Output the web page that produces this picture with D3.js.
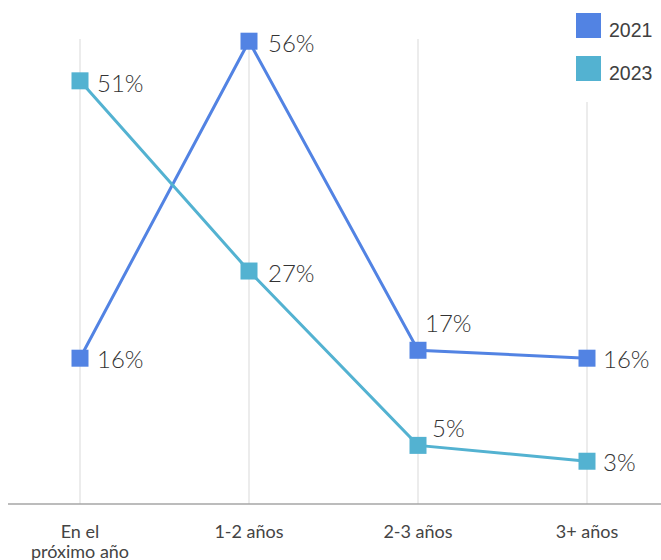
<!DOCTYPE html>
<html>
<head>
<meta charset="UTF-8">
<title>Plazo</title>
<style>
  body { margin: 0; background: #fff; }
  .grid { stroke: #e6e6e6; stroke-width: 1.5px; }
  .baseline { stroke: #a6a6a6; stroke-width: 1.5px; }
  .lbl { font: 300 24px Lato, sans-serif; fill: #333; }
  .cat { font: 400 18px Lato, sans-serif; fill: #444; }
  .leg { font: 400 19.5px "Liberation Sans", Arial, sans-serif; fill: #404040; }
</style>
</head>
<body>
<script src="https://cdn.jsdelivr.net/npm/d3@7"></script>
<svg id="chart" width="661" height="560"></svg>
<script>
  var categories = ["En el|próximo año", "1-2 años", "2-3 años", "3+ años"];
  var years = ["2021", "2023"];
  var colors = ["#5283e3", "#53b2d1"];
  var values2021 = [16, 56, 17, 16];
  var values2023 = [51, 27, 5, 3];
  // label nudges for the crowded "2-3 años" column
  var labelOffsets2021 = [[17, -1], [19, 0], [7, -29], [16, -1]];
  var labelOffsets2023 = [[17, 0], [19, 0], [14, -19], [16, -1]];

  var svg = d3.select("#chart");
  var x = d3.scalePoint().domain(categories).range([80, 587]);
  var y = d3.scaleLinear().domain([0, 60]).range([485, 9.5]);

  // vertical grid
  svg.selectAll(".grid").data(categories).enter().append("line")
    .attr("class", "grid")
    .attr("x1", d => x(d)).attr("x2", d => x(d))
    .attr("y1", 39).attr("y2", 504);

  svg.append("line").attr("class", "baseline")
    .attr("x1", 8).attr("x2", 661).attr("y1", 504).attr("y2", 504);

  // category labels (second line runs off the bottom, as in the original)
  categories.forEach(function (c) {
    var parts = c.split("|");
    var t = svg.append("text").attr("class", "cat").attr("text-anchor", "middle");
    parts.forEach(function (p, i) {
      t.append("tspan").attr("x", x(c)).attr("y", 538 + i * 20).text(p);
    });
  });

  var series = [
    { name: years[0], values: values2021, offs: labelOffsets2021, color: colors[0] },
    { name: years[1], values: values2023, offs: labelOffsets2023, color: colors[1] }
  ];

  var line = d3.line().x((d, i) => x(categories[i])).y(d => y(d));

  series.forEach(function (s) {
    svg.append("path")
      .attr("d", line(s.values))
      .attr("fill", "none")
      .attr("stroke", s.color)
      .attr("stroke-width", 3);

    svg.selectAll(null).data(s.values).enter().append("rect")
      .attr("x", (d, i) => x(categories[i]) - 8.5)
      .attr("y", d => y(d) - 8.5)
      .attr("width", 17).attr("height", 17)
      .attr("fill", s.color);

    svg.selectAll(null).data(s.values).enter().append("text")
      .attr("class", "lbl")
      .attr("x", (d, i) => x(categories[i]) + s.offs[i][0])
      .attr("y", (d, i) => y(d) + s.offs[i][1])
      .attr("dy", "0.46em")
      .text(d => d + "%");
  });

  // legend
  var leg = svg.append("g");
  leg.append("rect").attr("x", 566).attr("y", 0).attr("width", 95).attr("height", 102).attr("fill", "#fff");
  years.forEach(function (yr, i) {
    leg.append("rect")
      .attr("x", 576).attr("y", 13 + i * 43)
      .attr("width", 25).attr("height", 25)
      .attr("fill", colors[i]);
    leg.append("text").attr("class", "leg")
      .attr("x", 609).attr("y", 37 + i * 43)
      .text(yr);
  });
</script>
</body>
</html>
